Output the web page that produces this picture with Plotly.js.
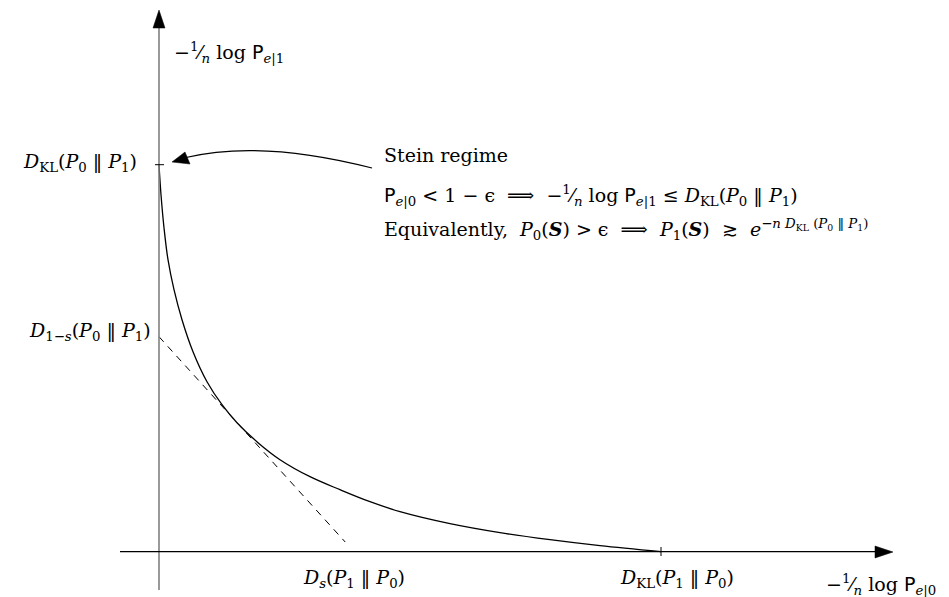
<!DOCTYPE html>
<html>
<head>
<meta charset="utf-8">
<script src="https://cdn.plot.ly/plotly-3.0.1.min.js"></script>
<style>html,body{margin:0;padding:0;background:#fff;}</style>
</head>
<body>
<div id="chart" style="width:949px;height:597px;"></div>
<script>
// ---- values (data units) ----
var DKL01 = 3.87;   // D_KL(P0||P1), y-intercept of the curve
var DKL10 = 5.02;   // D_KL(P1||P0), x-intercept of the curve
var D1s = 2.15;     // D_{1-s}(P0||P1), y-intercept of tangent
var Ds = 1.95;      // D_s(P1||P0), x-intercept of tangent
var curveX = [0, 0.02, 0.05, 0.09, 0.15, 0.23, 0.34, 0.48, 0.63, 0.78, 0.99, 1.21, 1.51, 1.81, 2.11, 2.41, 2.91, 3.41, 3.91, 4.41, 5.02];
var curveY = [3.87, 3.57, 3.24, 2.92, 2.62, 2.32, 2.00, 1.70, 1.47, 1.29, 1.09, 0.92, 0.75, 0.62, 0.50, 0.40, 0.28, 0.19, 0.12, 0.06, 0.0];
var tangentEnd = 0.955;   // fraction of the way to D_s where the dashed line stops
var tangentX = [0, tangentEnd * Ds];
var tangentY = [D1s, D1s * (1 - tangentEnd)];

// pixel helpers for decorations (origin at px 159, 551.7; 100 px per unit)
function X(px){ return (px - 159) / 100; }
function Y(py){ return (551.7 - py) / 100; }

var serif = "DejaVu Serif, Liberation Serif, serif";
var SP = function(t){ return "<span style=\"font-family:'DejaVu Sans', sans-serif\">" + t + "</span>"; };
var frac = "−<sup>1</sup>⁄<sub><i>n</i></sub>";
var Pe0 = SP("P") + "<sub><i>e</i>|0</sub>";
var Pe1 = SP("P") + "<sub><i>e</i>|1</sub>";
var th = " "; // thin space
var DKL = function(a,b){ return "<i>D</i><sub>KL</sub>(<i>P</i><sub>" + a + "</sub>" + th + "‖" + th + "<i>P</i><sub>" + b + "</sub>)"; };

var traces = [
  { x: curveX, y: curveY, mode: 'lines', line: {color: '#000', width: 1.3, shape: 'spline', smoothing: 1}, hoverinfo: 'skip' },
  { x: tangentX, y: tangentY, mode: 'lines', line: {color: '#000', width: 1, dash: '7px,6px'}, hoverinfo: 'skip' }
];

var shapes = [
  // vertical axis
  {type:'line', x0:0, x1:0, y0:Y(590), y1:Y(26), line:{color:'#808080', width:1.6}},
  {type:'path', path:'M '+X(159)+' '+Y(10)+' L '+X(153)+' '+Y(28)+' L '+X(165)+' '+Y(28)+' Z', fillcolor:'#000', line:{color:'#000', width:0.5}},
  // horizontal axis
  {type:'line', x0:X(120), x1:X(877), y0:0, y1:0, line:{color:'#000', width:1.3}},
  {type:'path', path:'M '+X(893)+' '+Y(552)+' L '+X(875)+' '+Y(546)+' L '+X(875)+' '+Y(558)+' Z', fillcolor:'#000', line:{color:'#000', width:0.5}},
  // ticks
  {type:'line', x0:X(155), x1:X(164), y0:DKL01, y1:DKL01, line:{color:'#000', width:1}},
  {type:'line', x0:DKL10, x1:DKL10, y0:Y(547), y1:Y(556), line:{color:'#000', width:1}},
  // curved Stein arrow
  {type:'path', path:'M '+X(372)+' '+Y(168)+' Q '+X(260.5)+' '+Y(139.5)+' '+X(186)+' '+Y(157.5), line:{color:'#000', width:1.2}},
  {type:'path', path:'M '+X(172)+' '+Y(162)+' L '+X(185)+' '+Y(152)+' L '+X(190)+' '+Y(164)+' Z', fillcolor:'#000', line:{color:'#000', width:0.5}}
];

var fs = 19;
var ann = function(x, y, text, xa){
  return {x:x, y:y, xref:'x', yref:'y', text:text, showarrow:false, xanchor:xa, yanchor:'middle', font:{family:serif, size:fs, color:'#000'}};
};
var sp = "  "; // spacing around relations

var annotations = [
  ann(X(172), Y(52), frac + " log " + Pe1, 'left'),
  ann(X(139), DKL01 + 0.02, DKL("0","1"), 'right'),
  ann(X(153), D1s + 0.05, "<i>D</i><sub>1−<i>s</i></sub>(<i>P</i><sub>0</sub>" + th + "‖" + th + "<i>P</i><sub>1</sub>)", 'right'),
  ann(Ds, Y(578), "<i>D</i><sub><i>s</i></sub>(<i>P</i><sub>1</sub>" + th + "‖" + th + "<i>P</i><sub>0</sub>)", 'center'),
  ann(DKL10 + 0.16, Y(578), DKL("1","0"), 'center'),
  ann(X(824), Y(584), frac + " log " + Pe0, 'left'),
  ann(X(382), Y(155), "Stein regime", 'left'),
  ann(X(382), Y(195), Pe0 + " &lt; 1 − ϵ" + sp + "⟹" + sp + frac + " log " + Pe1 + " ≤ " + DKL("0","1"), 'left'),
  ann(X(382), Y(229), "Equivalently,  <i>P</i><sub>0</sub>(<b><i>S</i></b>) &gt; ϵ" + sp + "⟹" + sp + "<i>P</i><sub>1</sub>(<b><i>S</i></b>)  ≳  <i>e</i><sup>−<i>n</i>" + th + "<i>D</i><sub>KL</sub>" + th + "(<i>P</i><sub>0</sub>" + th + "‖" + th + "<i>P</i><sub>1</sub>)</sup>", 'left')
];

var layout = {
  width: 949, height: 597,
  margin: {l:0, r:0, t:0, b:0},
  paper_bgcolor: '#fff', plot_bgcolor: '#fff',
  showlegend: false,
  xaxis: {range:[X(0), X(949)], visible:false, fixedrange:true},
  yaxis: {range:[Y(597), Y(0)], visible:false, fixedrange:true},
  shapes: shapes,
  annotations: annotations
};

Plotly.newPlot('chart', traces, layout, {displayModeBar:false, staticPlot:true});
</script>
</body>
</html>
